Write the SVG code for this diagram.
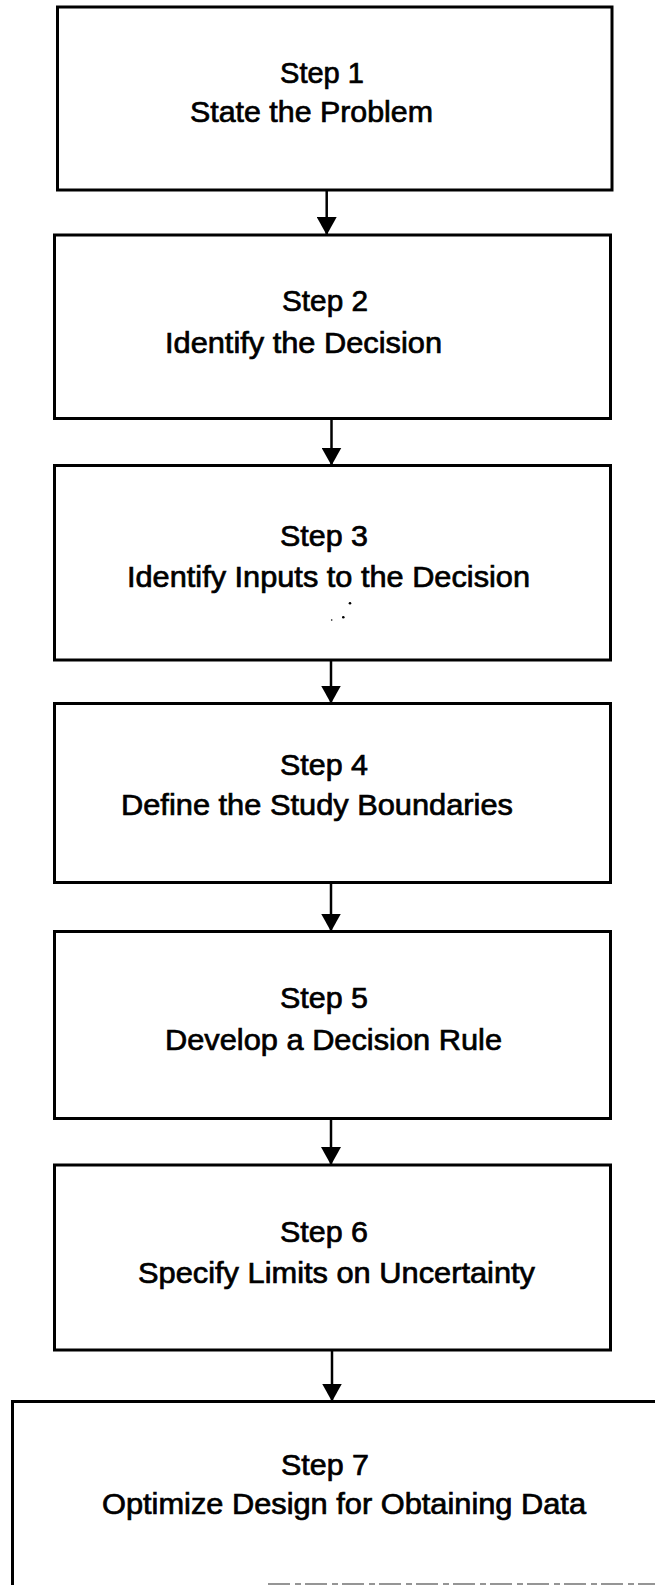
<svg xmlns="http://www.w3.org/2000/svg" width="655" height="1585" viewBox="0 0 655 1585">
  <style>
    .box { fill: #fff; stroke: #000; stroke-width: 3; }
    .lbl { font-family: "Liberation Sans", Arial, Helvetica, sans-serif; font-size: 29.5px; fill: #000; stroke: #000; stroke-width: 0.7; text-anchor: middle; }
    .edge { stroke: #000; stroke-width: 2.5; fill: none; marker-end: url(#head); }
  </style>
  <defs>
    <!-- solid triangular arrowhead, tip on the end point -->
    <marker id="head" markerUnits="userSpaceOnUse" viewBox="0 0 18 20" refX="18" refY="10" markerWidth="18" markerHeight="20" orient="auto">
      <path d="M0,0 L18,10 L0,20 Z" fill="#000"/>
    </marker>
  </defs>
  <rect width="655" height="1585" fill="#fff"/>

  <g id="step1">
    <rect class="box" x="57.5" y="7" width="554.5" height="183"/>
    <text class="lbl" x="322" y="83" textLength="84" lengthAdjust="spacingAndGlyphs">Step 1</text>
    <text class="lbl" x="311.5" y="122" textLength="243" lengthAdjust="spacingAndGlyphs">State the Problem</text>
  </g>

  <g id="step2">
    <rect class="box" x="54.5" y="235" width="556" height="183.5"/>
    <text class="lbl" x="325" y="311" textLength="86" lengthAdjust="spacingAndGlyphs">Step 2</text>
    <text class="lbl" x="303.5" y="352.5" textLength="277" lengthAdjust="spacingAndGlyphs">Identify the Decision</text>
  </g>

  <g id="step3">
    <rect class="box" x="54.5" y="465.5" width="556" height="194.5"/>
    <text class="lbl" x="324" y="546" textLength="88" lengthAdjust="spacingAndGlyphs">Step 3</text>
    <text class="lbl" x="328.5" y="586.5" textLength="403" lengthAdjust="spacingAndGlyphs">Identify Inputs to the Decision</text>
    <circle cx="350" cy="603.3" r="1.3" fill="#000"/>
    <circle cx="343.3" cy="617.3" r="1.3" fill="#000"/>
    <circle cx="331.7" cy="620" r="0.8" fill="#000"/>
  </g>

  <g id="step4">
    <rect class="box" x="54.5" y="703.5" width="556" height="179"/>
    <text class="lbl" x="324" y="775" textLength="88" lengthAdjust="spacingAndGlyphs">Step 4</text>
    <text class="lbl" x="317" y="815" textLength="392" lengthAdjust="spacingAndGlyphs">Define the Study Boundaries</text>
  </g>

  <g id="step5">
    <rect class="box" x="54.5" y="931.5" width="556" height="187"/>
    <text class="lbl" x="324" y="1008" textLength="88" lengthAdjust="spacingAndGlyphs">Step 5</text>
    <text class="lbl" x="333.5" y="1050" textLength="337" lengthAdjust="spacingAndGlyphs">Develop a Decision Rule</text>
  </g>

  <g id="step6">
    <rect class="box" x="54.5" y="1165" width="556" height="185"/>
    <text class="lbl" x="324" y="1241.5" textLength="88" lengthAdjust="spacingAndGlyphs">Step 6</text>
    <text class="lbl" x="336.5" y="1283" textLength="397" lengthAdjust="spacingAndGlyphs">Specify Limits on Uncertainty</text>
  </g>

  <g id="step7">
    <!-- last box runs past the right and bottom edges of the sheet -->
    <path class="box" d="M660,1401.5 H12.5 V1590"/>
    <line x1="268" y1="1584" x2="655" y2="1584" stroke="#000" stroke-width="1.5" stroke-dasharray="22 5 6 4" opacity="0.55"/>
    <text class="lbl" x="325" y="1475" textLength="88" lengthAdjust="spacingAndGlyphs">Step 7</text>
    <text class="lbl" x="344" y="1514" textLength="484" lengthAdjust="spacingAndGlyphs">Optimize Design for Obtaining Data</text>
  </g>

  <g id="connectors">
    <line class="edge" x1="326.7" y1="190" x2="326.7" y2="235"/>
    <line class="edge" x1="331.5" y1="418.5" x2="331.5" y2="465.5"/>
    <line class="edge" x1="331" y1="660" x2="331" y2="703.5"/>
    <line class="edge" x1="331" y1="882.5" x2="331" y2="931.5"/>
    <line class="edge" x1="331" y1="1118.5" x2="331" y2="1165"/>
    <line class="edge" x1="332" y1="1350" x2="332" y2="1401.5"/>
  </g>
</svg>
